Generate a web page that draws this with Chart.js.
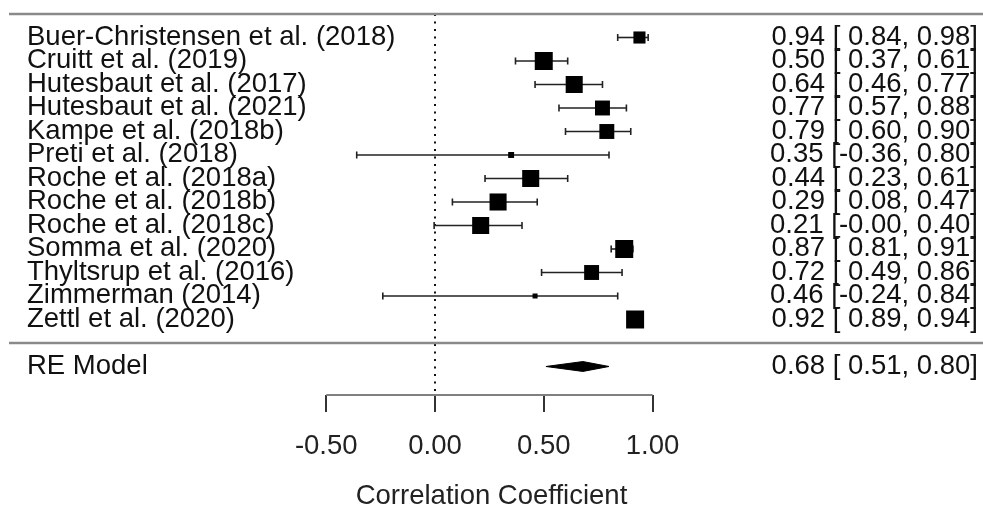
<!DOCTYPE html>
<html>
<head>
<meta charset="utf-8">
<script src="https://cdn.jsdelivr.net/npm/chart.js@4.4.1/dist/chart.umd.min.js"></script>
<style>
  html, body { margin: 0; padding: 0; background: #fff; }
  #wrap { width: 983px; height: 506px; position: relative; }
</style>
</head>
<body>
<div id="wrap"><canvas id="c"></canvas></div>
<script>
// ---- data ----
const studies = [
  "Buer-Christensen et al. (2018)",
  "Cruitt et al. (2019)",
  "Hutesbaut et al. (2017)",
  "Hutesbaut et al. (2021)",
  "Kampe et al. (2018b)",
  "Preti et al. (2018)",
  "Roche et al. (2018a)",
  "Roche et al. (2018b)",
  "Roche et al. (2018c)",
  "Somma et al. (2020)",
  "Thyltsrup et al. (2016)",
  "Zimmerman (2014)",
  "Zettl et al. (2020)"
];
const estimates = [0.94, 0.50, 0.64, 0.77, 0.79, 0.35, 0.44, 0.29, 0.21, 0.87, 0.72, 0.46, 0.92];
const ciLower   = [0.84, 0.37, 0.46, 0.57, 0.60, -0.36, 0.23, 0.08, -0.004, 0.81, 0.49, -0.24, 0.89];
const ciUpper   = [0.98, 0.61, 0.77, 0.88, 0.90, 0.80, 0.61, 0.47, 0.40, 0.91, 0.86, 0.84, 0.94];
const weights   = [6.5, 9.0, 8.6, 7.7, 7.7, 3.9, 8.6, 8.6, 8.6, 9.0, 7.7, 3.5, 9.0];
const modelLabel = "RE Model";
const modelEst = 0.68, modelLower = 0.51, modelUpper = 0.80;
const xTicks = [-0.5, 0, 0.5, 1];
const xTitle = "Correlation Coefficient";

// ---- layout / style ----
const FONT = "'Liberation Sans', Arial, sans-serif";
const FSIZE = 27.5;
const k = studies.length;
const rows = studies.map((_, i) => k - i);   // 13 .. 1
const modelRow = -1;
const YMAX = k + 1, YMIN = -2.213;
const XMIN = -2.0, XMAX = 2.5195;
const wMin = Math.min(...weights), wMax = Math.max(...weights);
const sideFor = w => 5 + (w - wMin) / (wMax - wMin) * 13;

const datasets = [];
// squares
datasets.push({
  type: 'scatter',
  data: estimates.map((e, i) => ({ x: e, y: rows[i] })),
  pointStyle: 'rect',
  pointRadius: ctx => sideFor(weights[ctx.dataIndex]) / Math.SQRT2,
  pointHoverRadius: ctx => sideFor(weights[ctx.dataIndex]) / Math.SQRT2,
  pointBackgroundColor: '#000',
  pointBorderWidth: 0,
  order: 0,
  clip: false
});
// CI lines
estimates.forEach((e, i) => {
  datasets.push({
    type: 'line',
    data: [{ x: ciLower[i], y: rows[i] }, { x: ciUpper[i], y: rows[i] }],
    borderColor: '#222',
    borderWidth: 1.6,
    pointStyle: 'line',
    pointRotation: 90,
    pointRadius: 3.5,
    pointHoverRadius: 3.5,
    pointBorderWidth: 1.6,
    pointBorderColor: '#222',
    fill: false,
    order: 1,
    clip: false
  });
});
// diamond for model
const dh = 0.21;
datasets.push({
  type: 'line',
  data: [
    { x: modelLower, y: modelRow },
    { x: modelEst, y: modelRow + dh },
    { x: modelUpper, y: modelRow },
    { x: modelEst, y: modelRow - dh },
    { x: modelLower, y: modelRow }
  ],
  borderColor: '#000',
  borderWidth: 1,
  backgroundColor: '#000',
  fill: 'shape',
  pointRadius: 0,
  tension: 0,
  order: 0,
  clip: false
});
// dotted reference line at 0
datasets.push({
  type: 'line',
  data: [{ x: 0, y: YMAX }, { x: 0, y: YMIN }],
  borderColor: '#111',
  borderWidth: 2,
  borderDash: [2, 5.5],
  pointRadius: 0,
  fill: false,
  order: 2,
  clip: false
});
// axis line from first to last tick
datasets.push({
  type: 'line',
  data: [{ x: xTicks[0], y: YMIN }, { x: xTicks[xTicks.length - 1], y: YMIN }],
  borderColor: '#808080',
  borderWidth: 2,
  pointRadius: 0,
  fill: false,
  order: 3,
  clip: false
});

const textPlugin = {
  id: 'forestText',
  afterDatasetsDraw(chart) {
    const ctx = chart.ctx;
    const ys = chart.scales.y;
    ctx.save();
    // horizontal rules
    ctx.strokeStyle = '#8a8a8a';
    ctx.lineWidth = 2.5;
    [YMAX, 0].forEach(r => {
      const y = ys.getPixelForValue(r);
      ctx.beginPath();
      ctx.moveTo(9, y);
      ctx.lineTo(chart.width, y);
      ctx.stroke();
    });
    ctx.fillStyle = '#111';
    ctx.font = FSIZE + 'px ' + FONT;
    ctx.textBaseline = 'alphabetic';
    const fmt = v => v.toFixed(2);
    const fmtCI = v => (v < 0 || Object.is(v, -0) ? '' : ' ') + fmt(v);
    const annot = (e, l, u) => fmt(e) + ' [' + fmtCI(l) + ', ' + fmt(u) + ']';
    studies.forEach((s, i) => {
      const y = ys.getPixelForValue(rows[i]) + 7.5;
      ctx.textAlign = 'left';
      ctx.fillText(s, 27, y);
      ctx.textAlign = 'right';
      ctx.fillText(annot(estimates[i], ciLower[i], ciUpper[i]), 978, y);
    });
    const ym = ys.getPixelForValue(modelRow) + 7.5;
    ctx.textAlign = 'left';
    ctx.fillText(modelLabel, 27, ym);
    ctx.textAlign = 'right';
    ctx.fillText(annot(modelEst, modelLower, modelUpper), 978, ym);
    ctx.restore();
  }
};

new Chart(document.getElementById('c'), {
  data: { datasets },
  options: {
    responsive: true,
    maintainAspectRatio: false,
    animation: false,
    devicePixelRatio: 1,
    layout: { autoPadding: false, padding: { top: 14, left: 0, right: 0, bottom: 0 } },
    plugins: { legend: { display: false }, tooltip: { enabled: false }, title: { display: false } },
    events: [],
    scales: {
      x: {
        type: 'linear',
        position: 'bottom',
        min: XMIN,
        max: XMAX,
        afterBuildTicks: sc => { sc.ticks = xTicks.map(v => ({ value: v })); },
        afterFit: sc => { sc.height = 111; },
        ticks: {
          autoSkip: false,
          maxRotation: 0,
          padding: 18,
          color: '#222',
          font: { family: FONT, size: FSIZE },
          callback: v => Number(v).toFixed(2)
        },
        grid: {
          drawOnChartArea: false,
          drawTicks: true,
          tickLength: 17,
          color: '#333',
          lineWidth: 2
        },
        border: { display: false },
        title: {
          display: true,
          text: xTitle,
          color: '#222',
          font: { family: FONT, size: FSIZE, lineHeight: 1 },
          padding: { top: 0, bottom: -4 }
        }
      },
      y: {
        type: 'linear',
        display: false,
        min: YMIN,
        max: YMAX
      }
    }
  },
  plugins: [textPlugin]
});
</script>
</body>
</html>
